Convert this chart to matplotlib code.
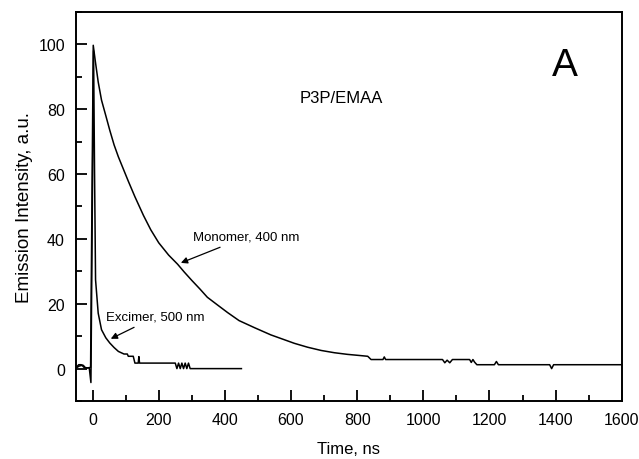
import matplotlib
matplotlib.use('Agg')
import matplotlib.pyplot as plt
from matplotlib.ticker import MultipleLocator

plt.rcParams['font.family'] = ['Liberation Sans', 'DejaVu Sans']

# Monomer decay (400 nm)
mono_t = [-50, -40, -32, -25, -15, -6, 2, 8, 17, 27, 40, 52, 65, 78, 92, 108, 128, 154, 176,
          200, 230, 257, 277, 300, 325, 347, 378, 408, 443, 490, 539, 580, 610, 650, 691,
          731, 770, 812, 832, 842, 878, 882, 886, 1000, 1058, 1065, 1072, 1080, 1088, 1140,
          1145, 1150, 1155, 1162, 1215, 1221, 1227, 1382, 1388, 1394, 1600]
mono_i = [0.2, 0.8, 1.0, 0.3, 0.2, 0.4, 99.7, 95, 88.4, 82.8, 78, 73.5, 69, 65.3, 61.8, 57.8, 53, 47.2, 42.8,
          38.8, 35, 32.2, 29.8, 27.2, 24.5, 22.0, 19.6, 17.3, 14.8, 12.6, 10.4, 8.9, 7.8, 6.6, 5.6,
          4.9, 4.4, 4.0, 3.8, 2.8, 2.8, 3.6, 2.8, 2.8, 2.8, 1.8, 2.6, 1.8, 2.8, 2.8,
          1.9, 2.8, 2.0, 1.2, 1.2, 2.2, 1.2, 1.2, 0.0, 1.2, 1.2]

# Excimer decay (500 nm)
exc_t = [-50, -42, -35, -28, -22, -10, -5, 0, 3, 6, 9, 17, 27, 40, 52, 65, 78, 95, 105, 108,
         123, 128, 138, 140, 142, 250, 255, 260, 265, 270, 275, 280, 285, 290, 295, 450]
exc_i = [0.3, 1.2, 1.2, 1.0, 0.3, 0.2, -4.3, 60, 98, 60, 27.4, 17.1, 12, 9.5, 7.9, 6.5, 5.3, 4.5, 4.5, 3.8,
         3.8, 1.7, 1.7, 3.7, 1.7, 1.7, 0, 1.7, 0, 1.7, 0, 1.7, 0, 1.7, 0, 0]

fig = plt.figure(figsize=(6.39, 4.6), dpi=100)
ax = fig.add_axes([0.119, 0.126, 0.854, 0.846])

ax.plot(mono_t, mono_i, color='black', lw=1.1)
ax.plot(exc_t, exc_i, color='black', lw=1.1)

ax.set_xlim(-50, 1600)
ax.set_ylim(-10, 110)
ax.xaxis.set_major_locator(MultipleLocator(200))
ax.xaxis.set_minor_locator(MultipleLocator(100))
ax.yaxis.set_major_locator(MultipleLocator(20))
ax.yaxis.set_minor_locator(MultipleLocator(10))
ax.tick_params(which='both', direction='in', top=False, right=False, labelsize=11.5, pad=8)
ax.tick_params(which='major', length=8, width=1.3)
ax.tick_params(which='minor', length=4, width=1.3)
for s in ax.spines.values():
    s.set_linewidth(1.4)

ax.set_xlabel('Time, ns', fontsize=12, labelpad=10)
ax.set_ylabel('Emission Intensity, a.u.', fontsize=13.5, labelpad=4)

ax.text(752, 83.7, 'P3P/EMAA', fontsize=12, ha='center', va='center')
ax.text(1427, 93.5, 'A', fontsize=28, ha='center', va='center')

ax.annotate('Monomer, 400 nm', xy=(267, 32.6), xytext=(303, 40.6), fontsize=9.5,
            va='center', ha='left',
            arrowprops=dict(arrowstyle='-|>', color='black', lw=0.9, shrinkA=3, shrinkB=0))
ax.annotate('Excimer, 500 nm', xy=(55, 9.2), xytext=(42, 16), fontsize=9.5,
            va='center', ha='left',
            arrowprops=dict(arrowstyle='-|>', color='black', lw=0.9, shrinkA=3, shrinkB=0))

fig.savefig('out.png', dpi=100)
